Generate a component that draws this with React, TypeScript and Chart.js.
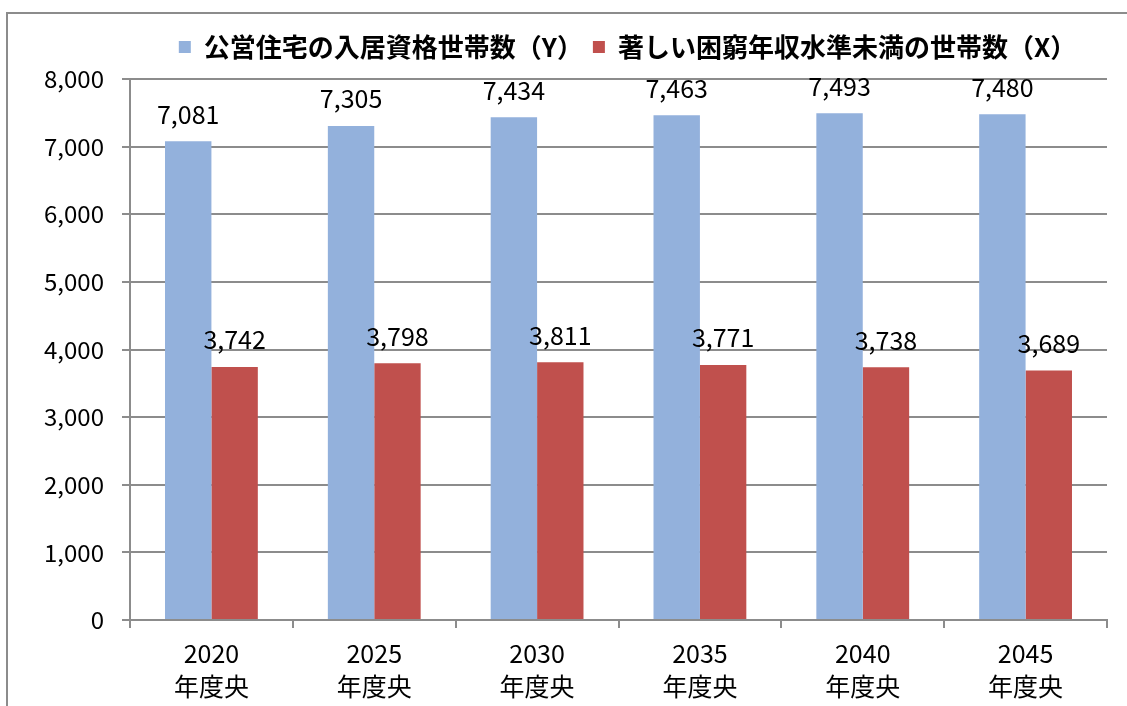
import React, { useEffect, useRef } from "react";
import { Chart, registerables } from "chart.js";

Chart.register(...registerables);

const years = ["2020", "2025", "2030", "2035", "2040", "2045"];
const yearSuffix = "年度央";
const eligibleHouseholds = [7081, 7305, 7434, 7463, 7493, 7480];
const poorHouseholds = [3742, 3798, 3811, 3771, 3738, 3689];
const seriesNames = ["公営住宅の入居資格世帯数（Y）", "著しい困窮年収水準未満の世帯数（X）"];
const yTicks = [0, 1000, 2000, 3000, 4000, 5000, 6000, 7000, 8000];

const FONT = "'Noto Sans CJK JP', 'Noto Sans', sans-serif";
const fmt = (v: number) => v.toLocaleString("en-US");

const legendSpacer = {
  id: "legendSpacer",
  afterInit(chart: any) {
    const legend = chart.legend;
    if (!legend || legend.__patched) return;
    const origFit = legend.fit;
    legend.fit = function () {
      origFit.call(this);
      this.height += 9;
    };
    const origDraw = legend.draw;
    legend.draw = function () {
      const ctx = this.ctx;
      ctx.save();
      ctx.translate(9, 0);
      origDraw.call(this);
      ctx.restore();
    };
    legend.__patched = true;
  },
};

const valueLabels = {
  id: "valueLabels",
  afterDatasetsDraw(chart: any) {
    const ctx = chart.ctx;
    ctx.save();
    ctx.font = `25px ${FONT}`;
    ctx.fillStyle = "#000";
    ctx.textAlign = "center";
    ctx.textBaseline = "middle";
    chart.data.datasets.forEach((ds: any, i: number) => {
      const meta = chart.getDatasetMeta(i);
      meta.data.forEach((bar: any, j: number) => {
        ctx.fillText(fmt(ds.data[j]), bar.x, bar.y - 27);
      });
    });
    ctx.restore();
  },
};

export default function App() {
  const ref = useRef<HTMLCanvasElement>(null);
  useEffect(() => {
    if (!ref.current) return;
    const chart = new Chart(ref.current, {
      type: "bar",
      data: {
        labels: years.map((y) => [y, yearSuffix]),
        datasets: [
          {
            label: seriesNames[0],
            data: eligibleHouseholds,
            backgroundColor: "#93b1dc",
            barPercentage: 1,
            categoryPercentage: 0.57,
          },
          {
            label: seriesNames[1],
            data: poorHouseholds,
            backgroundColor: "#c0504d",
            barPercentage: 1,
            categoryPercentage: 0.57,
          },
        ],
      },
      options: {
        responsive: false,
        animation: false,
        layout: { padding: { top: 24, left: 0, right: 20, bottom: 0 } },
        plugins: {
          tooltip: { enabled: false },
          legend: {
            position: "top",
            fullSize: false,
            labels: {
              boxWidth: 12,
              boxHeight: 12,
              padding: 10,
              color: "#000",
              font: { family: FONT, size: 26, weight: "bold" },
            },
          },
        },
        scales: {
          x: {
            grid: {
              offset: true,
              drawOnChartArea: false,
              drawTicks: true,
              tickLength: 8,
              color: "#8c8c8c",
              lineWidth: 2,
            },
            border: { display: true, color: "#8c8c8c", width: 2 },
            ticks: {
              color: "#000",
              padding: 9,
              maxRotation: 0,
              font: { family: FONT, size: 25, lineHeight: 1.32 },
            },
            afterFit(scale: any) {
              scale.height = 86;
            },
          },
          y: {
            min: 0,
            max: 8000,
            afterBuildTicks(scale: any) {
              scale.ticks = yTicks.map((v) => ({ value: v }));
            },
            grid: {
              color: "#8c8c8c",
              lineWidth: 2,
              tickLength: 8,
              drawTicks: true,
            },
            border: { display: true, color: "#8c8c8c", width: 2 },
            ticks: {
              color: "#000",
              padding: 18,
              font: { family: FONT, size: 24 },
              callback: (v: any) => fmt(Number(v)),
            },
            afterFit(scale: any) {
              scale.width = 130;
            },
          },
        },
      },
      plugins: [legendSpacer, valueLabels],
    } as any);
    return () => chart.destroy();
  }, []);

  return (
    <div
      style={{
        position: "fixed",
        left: 0,
        top: 0,
        width: 1127,
        height: 706,
        overflow: "hidden",
        background: "#fff",
      }}
    >
      <div
        style={{
          position: "absolute",
          left: 6,
          top: 12,
          width: 1300,
          height: 900,
          border: "2px solid #8c8c8c",
        }}
      />
      <canvas
        ref={ref}
        width={1127}
        height={706}
        style={{ position: "absolute", left: 0, top: 0, display: "block" }}
      />
    </div>
  );
}
